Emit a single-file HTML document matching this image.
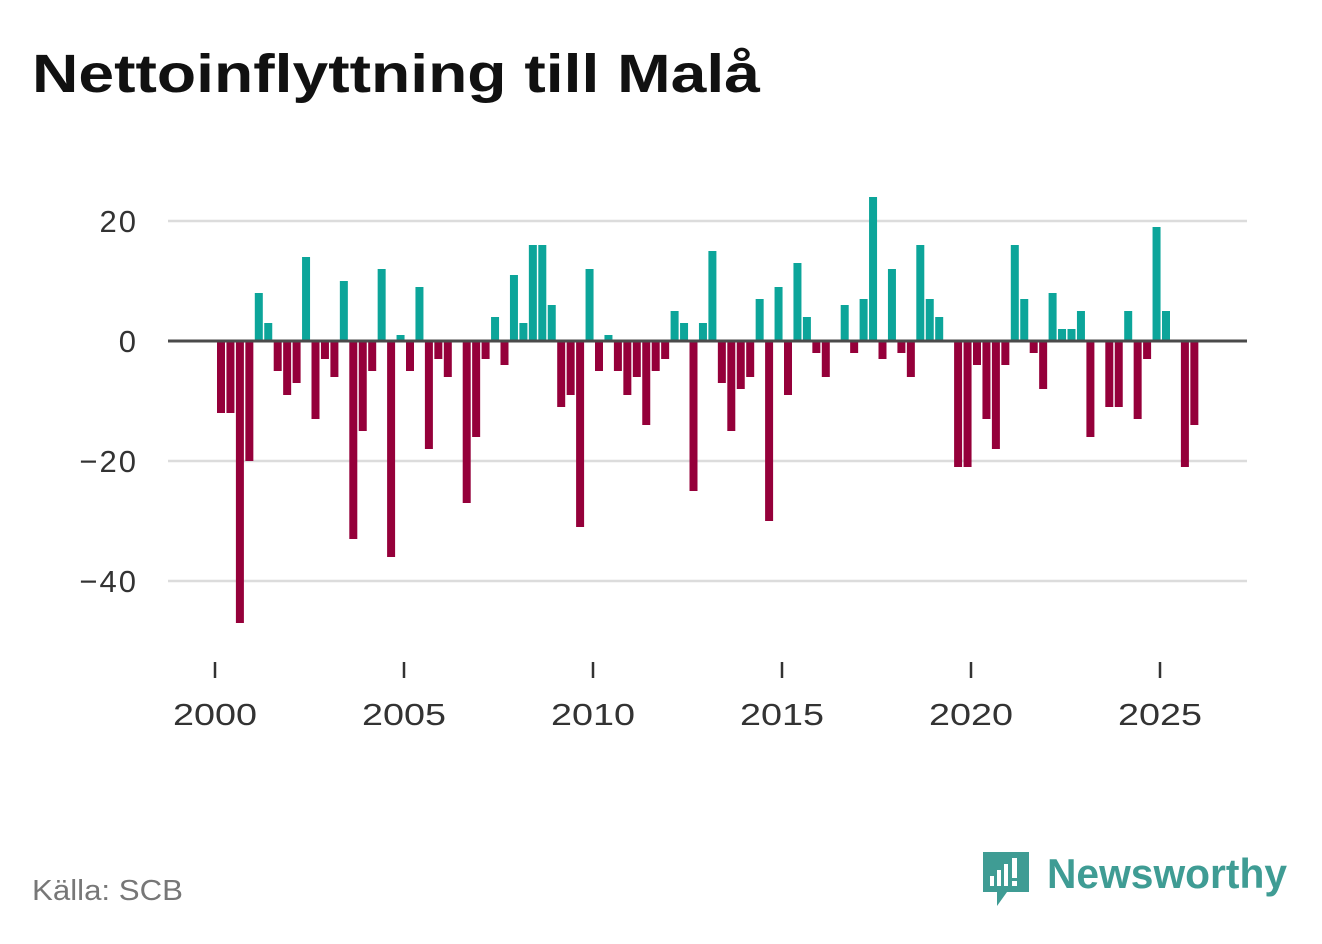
<!DOCTYPE html>
<html><head><meta charset="utf-8"><style>
body{margin:0;background:#fff;width:1322px;height:939px;overflow:hidden;font-family:"Liberation Sans",sans-serif}
</style></head><body>
<svg id="chart" width="1322" height="939" xmlns="http://www.w3.org/2000/svg">
<text x="32" y="92" font-size="54" font-weight="bold" fill="#111" textLength="728" lengthAdjust="spacingAndGlyphs" font-family="Liberation Sans, sans-serif">Nettoinflyttning till Malå</text>
<g id="grid"></g><g id="bars"></g><g id="axes"></g>
<text x="32" y="900" font-size="29" fill="#777" textLength="151" lengthAdjust="spacingAndGlyphs">Källa: SCB</text>
<g>
<path d="M983 852 h46 v40 h-22 l-10 14 v-14 h-14 z" fill="#3f9c94"/>
<rect x="990" y="876" width="4" height="10" fill="#fff"/><rect x="997" y="870" width="4" height="16" fill="#fff"/><rect x="1004" y="864" width="4" height="22" fill="#fff"/><rect x="1012" y="858" width="5" height="20" fill="#fff"/><rect x="1012" y="881" width="5" height="5" fill="#fff"/>
<text x="1047" y="888" font-size="42" font-weight="bold" fill="#3f9c94" textLength="240" lengthAdjust="spacingAndGlyphs">Newsworthy</text>
</g>
</svg>
<script>
const values=[-12,-12,-47,-20,8,3,-5,-9,-7,14,-13,-3,-6,10,-33,-15,-5,12,-36,1,-5,9,-18,-3,-6,0,-27,-16,-3,4,-4,11,3,16,16,6,-11,-9,-31,12,-5,1,-5,-9,-6,-14,-5,-3,5,3,-25,3,15,-7,-15,-8,-6,7,-30,9,-9,13,4,-2,-6,0,6,-2,7,24,-3,12,-2,-6,16,7,4,0,-21,-21,-4,-13,-18,-4,16,7,-2,-8,8,2,2,5,-16,0,-11,-11,5,-13,-3,19,5,0,-21,-14];
const startYear=2000;
const yTicks=[20,0,-20,-40];
const yTickLabels=["20","0","\u221220","\u221240"];
const xTicks=[2000,2005,2010,2015,2020,2025];
const NS="http://www.w3.org/2000/svg";
function xs(y){return 215+(y-2000)*37.8;}
function ys(v){return 341-v*6;}
function mk(tag,attrs,parent){const e=document.createElementNS(NS,tag);for(const k in attrs)e.setAttribute(k,attrs[k]);parent.appendChild(e);return e;}
const grid=document.getElementById('grid'),bars=document.getElementById('bars'),axes=document.getElementById('axes');
yTicks.forEach((t,i)=>{
 if(t!==0){const l=mk('line',{x1:168,x2:1247,y1:ys(t),y2:ys(t),stroke:'#dcdcdc','stroke-width':2.5},grid);
 
 }
 const tx=mk('text',{x:138,y:ys(t)+11,'text-anchor':'end','font-size':31,'letter-spacing':2,fill:'#333'},axes);
 tx.textContent=yTickLabels[i];
 
 
});
values.forEach((v,i)=>{
 const cx=xs(startYear+i/4)+6;
 const r=mk('rect',{x:cx-4,y:Math.min(ys(v),ys(0)),width:8,height:Math.abs(ys(v)-ys(0)),fill:v>=0?'#0ca59a':'#95003a'},bars);
 
 
});
const z=mk('line',{x1:168,x2:1247,y1:ys(0),y2:ys(0),stroke:'#4a4a4a','stroke-width':3},axes);


xTicks.forEach(t=>{
 const tk=mk('line',{x1:xs(t),x2:xs(t),y1:662,y2:678,stroke:'#333','stroke-width':2.5},axes);
 
 
 const tx=mk('text',{x:xs(t),y:725,'text-anchor':'middle','font-size':31,fill:'#333',textLength:84,lengthAdjust:'spacingAndGlyphs'},axes);
 tx.textContent=t;
 
 
});
</script>
</body></html>
